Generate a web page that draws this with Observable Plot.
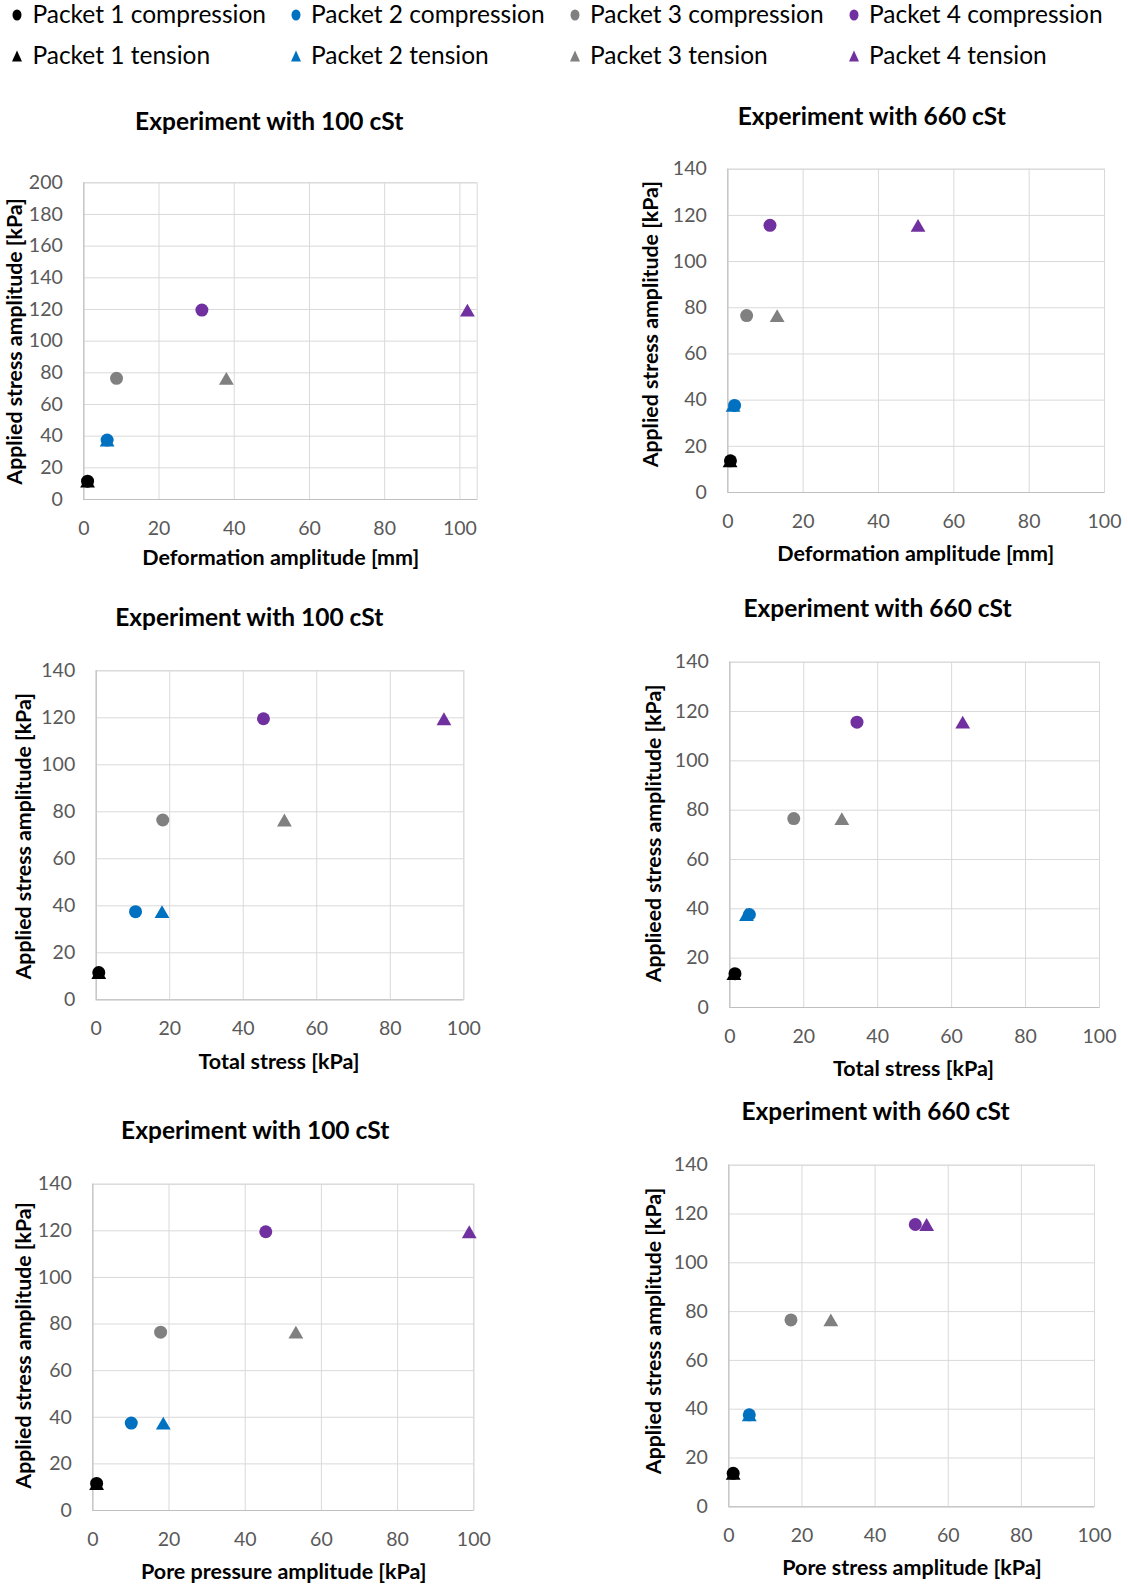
<!DOCTYPE html>
<html>
<head>
<meta charset="utf-8">
<script src="https://cdn.jsdelivr.net/npm/d3@7"></script>
<script src="https://cdn.jsdelivr.net/npm/@observablehq/plot@0.6"></script>
<style>
  html, body { margin: 0; padding: 0; background: #ffffff; }
  body { width: 1128px; height: 1587px; position: relative; overflow: hidden; font-family: Lato, "Open Sans", sans-serif; }
  .panel { position: absolute; }
  .lg { position: absolute; font-size: 24.5px; color: #000; white-space: nowrap; line-height: 1; }
  .lgsym { position: absolute; }
</style>
</head>
<body>
<div id="legend"></div>
<div id="charts"></div>
<script>
// ---------- data ----------
const packets = ["Packet 1", "Packet 2", "Packet 3", "Packet 4"];
const packetColors = ["#000000", "#0070C0", "#808080", "#7030A0"];
const loadTypes = ["compression", "tension"];

const xTicks = [0, 20, 40, 60, 80, 100];
const yTicks140 = [0, 20, 40, 60, 80, 100, 120, 140];
const yTicks200 = [0, 20, 40, 60, 80, 100, 120, 140, 160, 180, 200];

// applied stress amplitude per packet [kPa]
const applied100 = [11.6, 37.5, 76.5, 119.6];
const applied660 = [13.7, 37.7, 76.6, 115.7];

// deformation amplitude [mm]
const deform100Comp = [1.0, 6.2, 8.7, 31.4];
const deform100Tens = [1.0, 6.2, 37.9, 102.0];
const deform660Comp = [0.7, 1.8, 5.0, 11.2];
const deform660Tens = [0.6, 1.4, 13.1, 50.5];

// total stress [kPa]
const total100Comp = [0.7, 10.7, 18.1, 45.5];
const total100Tens = [0.7, 17.9, 51.2, 94.6];
const total660Comp = [1.4, 5.3, 17.3, 34.4];
const total660Tens = [1.1, 4.5, 30.3, 63.0];

// pore pressure / pore stress amplitude [kPa]
const pore100Comp = [1.0, 10.1, 17.8, 45.4];
const pore100Tens = [1.0, 18.5, 53.3, 98.8];
const pore660Comp = [1.2, 5.6, 17.0, 51.0];
const pore660Tens = [1.2, 5.6, 27.9, 54.1];

const titles = ["Experiment with 100 cSt", "Experiment with 660 cSt", "Experiment with 100 cSt",
                "Experiment with 660 cSt", "Experiment with 100 cSt", "Experiment with 660 cSt"];
const xLabels = ["Deformation amplitude [mm]", "Deformation amplitude [mm]", "Total stress [kPa]",
                 "Total stress [kPa]", "Pore pressure amplitude [kPa]", "Pore stress amplitude [kPa]"];
const yLabels = ["Applied stress amplitude [kPa]", "Applied stress amplitude [kPa]", "Applied stress amplitude [kPa]",
                 "Applieed stress amplitude [kPa]", "Applied stress amplitude [kPa]", "Applied stress amplitude [kPa]"];

const panelSeries = [
  {comp: deform100Comp, tens: deform100Tens, y: applied100, xMax: 104.6, yMax: 200, yTicks: yTicks200},
  {comp: deform660Comp, tens: deform660Tens, y: applied660, xMax: 100, yMax: 140, yTicks: yTicks140},
  {comp: total100Comp, tens: total100Tens, y: applied100, xMax: 100, yMax: 140, yTicks: yTicks140},
  {comp: total660Comp, tens: total660Tens, y: applied660, xMax: 100, yMax: 140, yTicks: yTicks140},
  {comp: pore100Comp, tens: pore100Tens, y: applied100, xMax: 100, yMax: 140, yTicks: yTicks140},
  {comp: pore660Comp, tens: pore660Tens, y: applied660, xMax: 100, yMax: 140, yTicks: yTicks140}
];

// ---------- layout (page pixels) ----------
const layout = [
  {svg: [0, 80, 560, 500],    frame: [83.3, 476.7, 182.3, 499],    title: [268.7, 122],  ylab: [15, 341],    xlab: [280.3, 558]},
  {svg: [600, 80, 528, 500],  frame: [727.3, 1104, 168.7, 492],    title: [871.3, 117],  ylab: [650.5, 323.7], xlab: [915.3, 554]},
  {svg: [0, 580, 560, 505],   frame: [95.7, 463.3, 670.3, 999.3],  title: [248.8, 617.5], ylab: [23.3, 835.8], xlab: [278.5, 1062]},
  {svg: [600, 580, 528, 505], frame: [729.3, 1099, 661.7, 1007],   title: [877, 609],  ylab: [653.3, 833], xlab: [913, 1069]},
  {svg: [0, 1085, 560, 502],  frame: [92.3, 473.3, 1183.7, 1510],  title: [254.7, 1130.5], ylab: [24, 1345], xlab: [283.3, 1571.7]},
  {svg: [600, 1085, 528, 502], frame: [728.3, 1094, 1164.7, 1506.3], title: [875, 1111.5], ylab: [654, 1330.5], xlab: [911.5, 1567.7]}
];

// bbox-centred triangle (as Excel draws its marker)
const triangleSymbol = {
  draw(context, size) {
    const h = Math.sqrt(size * Math.sqrt(3));
    const s = 2 * h / Math.sqrt(3);
    context.moveTo(0, -h / 2);
    context.lineTo(s / 2, h / 2);
    context.lineTo(-s / 2, h / 2);
    context.closePath();
  }
};

const charts = document.getElementById("charts");

panelSeries.forEach((ps, i) => {
  const L = layout[i];
  const [sx, sy, sw, sh] = L.svg;
  const [fl, fr, ft, fb] = L.frame;
  const cx = (fl + fr) / 2, cy = (ft + fb) / 2;

  const compData = packets.map((p, k) => ({packet: p, type: loadTypes[0], x: ps.comp[k], y: ps.y[k], color: packetColors[k]}));
  const tensData = packets.map((p, k) => ({packet: p, type: loadTypes[1], x: ps.tens[k], y: ps.y[k], color: packetColors[k]}));

  const plot = Plot.plot({
    width: sw,
    height: sh,
    marginLeft: fl - sx,
    marginRight: sx + sw - fr,
    marginTop: ft - sy,
    marginBottom: sy + sh - fb,
    style: {fontFamily: "Lato, 'Open Sans', sans-serif", fontSize: "19.5px", color: "#595959", background: "#ffffff"},
    x: {domain: [0, ps.xMax], ticks: xTicks, tickSize: 0, tickPadding: 21.5, label: null},
    y: {domain: [0, ps.yMax], ticks: ps.yTicks, tickSize: 0, tickPadding: 21, label: null},
    color: {type: "identity"},
    marks: [
      Plot.gridX(xTicks, {stroke: "#d9d9d9", strokeOpacity: 1}),
      Plot.gridY(ps.yTicks, {stroke: "#d9d9d9", strokeOpacity: 1}),
      Plot.frame({stroke: "#d9d9d9"}),
      Plot.ruleY([0], {stroke: "#bfbfbf"}),
      Plot.ruleX([0], {stroke: "#bfbfbf"}),
      Plot.dot(compData, {x: "x", y: "y", fill: "color", r: 6.5, symbol: "circle"}),
      Plot.dot(tensData, {x: "x", y: "y", fill: "color", r: 5.5, symbol: triangleSymbol}),
      Plot.text([titles[i]], {frameAnchor: "top", textAnchor: "middle", lineAnchor: "middle",
        dx: L.title[0] - cx, dy: L.title[1] - ft, fontWeight: "bold", fontSize: 24.5, fill: "#000000"}),
      Plot.text([xLabels[i]], {frameAnchor: "bottom", textAnchor: "middle", lineAnchor: "middle",
        dx: L.xlab[0] - cx, dy: L.xlab[1] - fb, fontWeight: "bold", fontSize: 21.5, fill: "#000000"}),
      Plot.text([yLabels[i]], {frameAnchor: "left", textAnchor: "middle", lineAnchor: "middle", rotate: -90,
        dx: L.ylab[0] - fl, dy: L.ylab[1] - cy, fontWeight: "bold", fontSize: 21.3, fill: "#000000"})
    ]
  });
  const wrap = document.createElement("div");
  wrap.className = "panel";
  wrap.style.left = sx + "px";
  wrap.style.top = sy + "px";
  wrap.appendChild(plot);
  charts.appendChild(wrap);
});

// ---------- legend ----------
const legend = d3.select("#legend");
const symX = [17.2, 295.7, 575, 853.6];
const textX = [32.4, 311, 590, 869];
const rowY = [15.2, 55.7];
loadTypes.forEach((t, r) => {
  packets.forEach((p, k) => {
    const svg = legend.append("svg").attr("class", "lgsym")
      .attr("width", 16).attr("height", 16)
      .style("left", (symX[k] - 8) + "px").style("top", (rowY[r] - 8) + "px");
    if (t === "compression") {
      svg.append("ellipse").attr("cx", 8).attr("cy", 8).attr("rx", 4.5).attr("ry", 5.5).attr("fill", packetColors[k]);
    } else {
      svg.append("path").attr("d", "M8,2.5 L13,13.5 L3,13.5 Z").attr("fill", packetColors[k]);
    }
    legend.append("div").attr("class", "lg")
      .style("left", textX[k] + "px").style("top", (rowY[r] - 13.2) + "px")
      .text(`${p} ${t}`);
  });
});
</script>
</body>
</html>
